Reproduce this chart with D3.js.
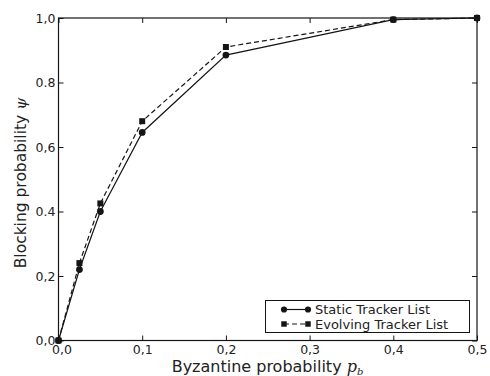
<!DOCTYPE html>
<html><head><meta charset="utf-8">
<script src="https://cdn.jsdelivr.net/npm/d3@7"></script>
<style>
html,body{margin:0;padding:0;background:#fff;}
svg{display:block;font-family:"DejaVu Sans",sans-serif;}
</style></head>
<body>
<svg id="c" width="490" height="376"></svg>
<script>
const pb = [0, 0.025, 0.05, 0.1, 0.2, 0.4, 0.5];
const staticVals = [0, 0.22, 0.40, 0.645, 0.885, 0.995, 1.0];
const evolvingVals = [0, 0.24, 0.425, 0.68, 0.91, 0.995, 1.0];
const seriesNames = ["Static Tracker List", "Evolving Tracker List"];
const xTicks = [0, 0.1, 0.2, 0.3, 0.4, 0.5];
const xTickLabels = ["0,0", "0,1", "0,2", "0,3", "0,4", "0,5"];
const yTicks = [0, 0.2, 0.4, 0.6, 0.8, 1.0];
const yTickLabels = ["0,0", "0,2", "0.4", "0,6", "0.8", "1,0"];

const svg = d3.select("#c");
const L = 58.5, R = 477, T = 18, B = 340.5;
const x = d3.scaleLinear().domain([0, 0.5]).range([L, R]);
const y = d3.scaleLinear().domain([0, 1]).range([B, T]);
const col = "#151515";

// frame
svg.append("rect").attr("x", L).attr("y", T).attr("width", R - L).attr("height", B - T)
  .attr("fill", "none").attr("stroke", col).attr("stroke-width", 1.2);

// axes with inward ticks
const fmtX = (d, i) => xTickLabels[i];
const fmtY = (d, i) => yTickLabels[i];
const gx = svg.append("g").attr("transform", `translate(0,${B})`)
  .call(d3.axisBottom(x).tickValues(xTicks).tickFormat(fmtX).tickSizeInner(-5).tickSizeOuter(0).tickPadding(5));
const gxt = svg.append("g").attr("transform", `translate(0,${T})`)
  .call(d3.axisTop(x).tickValues(xTicks).tickFormat("").tickSizeInner(-5).tickSizeOuter(0));
const gy = svg.append("g").attr("transform", `translate(${L},0)`)
  .call(d3.axisLeft(y).tickValues(yTicks).tickFormat(fmtY).tickSizeInner(-5).tickSizeOuter(0).tickPadding(3));
const gyr = svg.append("g").attr("transform", `translate(${R},0)`)
  .call(d3.axisRight(y).tickValues(yTicks).tickFormat("").tickSizeInner(-5).tickSizeOuter(0));
[gx, gxt, gy, gyr].forEach(g => {
  g.select(".domain").remove();
  g.selectAll("line").attr("stroke", col).attr("stroke-width", 1);
  g.selectAll("text").attr("fill", "#222").style("font-size", "12.5px").style("font-family", "DejaVu Sans");
});
gy.selectAll("text").attr("dy", "0.32em");
gx.selectAll(".tick text").filter((d) => d === 0).attr("dx", "3");

// lines
const line = d3.line().x(d => x(d[0])).y(d => y(d[1]));
const sData = pb.map((p, i) => [p, staticVals[i]]);
const eData = pb.map((p, i) => [p, evolvingVals[i]]);
svg.append("path").datum(sData).attr("d", line).attr("fill", "none").attr("stroke", col).attr("stroke-width", 1.2);
svg.append("path").datum(eData).attr("d", line).attr("fill", "none").attr("stroke", col).attr("stroke-width", 1.2).attr("stroke-dasharray", "5,3");

svg.selectAll(".ms").data(sData).enter().append("path")
  .attr("transform", d => `translate(${x(d[0])},${y(d[1])})`)
  .attr("d", d3.symbol().type(d3.symbolCircle).size(36)()).attr("fill", col);
svg.selectAll(".me").data(eData).enter().append("path")
  .attr("transform", d => `translate(${x(d[0])},${y(d[1])})`)
  .attr("d", d3.symbol().type(d3.symbolSquare).size(36)()).attr("fill", col);

// legend
const lg = svg.append("g");
lg.append("rect").attr("x", 265.5).attr("y", 300.5).attr("width", 204).attr("height", 32)
  .attr("fill", "#fff").attr("stroke", col).attr("stroke-width", 1);
const rows = [
  {name: seriesNames[0], dash: null, type: d3.symbolCircle, yy: 309.5},
  {name: seriesNames[1], dash: "5,3", type: d3.symbolSquare, yy: 324}
];
rows.forEach(r => {
  lg.append("line").attr("x1", 284).attr("x2", 308).attr("y1", r.yy).attr("y2", r.yy)
    .attr("stroke", col).attr("stroke-width", 1.2).attr("stroke-dasharray", r.dash);
  [284, 308].forEach(px => lg.append("path").attr("transform", `translate(${px},${r.yy})`)
    .attr("d", d3.symbol().type(r.type).size(30)()).attr("fill", col));
  lg.append("text").attr("x", 315).attr("y", r.yy).attr("dy", "0.36em")
    .style("font-size", "13px").attr("fill", "#222").text(r.name);
});

// axis titles
const xt = svg.append("text").attr("x", 267.5).attr("y", 371.5).attr("text-anchor", "middle")
  .style("font-size", "16px").attr("fill", "#222");
xt.append("tspan").text("Byzantine probability ");
xt.append("tspan").style("font-family", "DejaVu Serif").style("font-style", "italic").text("p");
xt.append("tspan").style("font-family", "DejaVu Serif").style("font-style", "italic").style("font-size", "10px").attr("dy", "3").text("b");

const yt = svg.append("text").attr("transform", `translate(25.5,183) rotate(-90)`)
  .attr("text-anchor", "middle").style("font-size", "15.5px").attr("fill", "#222");
yt.append("tspan").text("Blocking probability ");
yt.append("tspan").style("font-family", "DejaVu Serif").style("font-style", "italic").text("ψ");
</script>
</body></html>
